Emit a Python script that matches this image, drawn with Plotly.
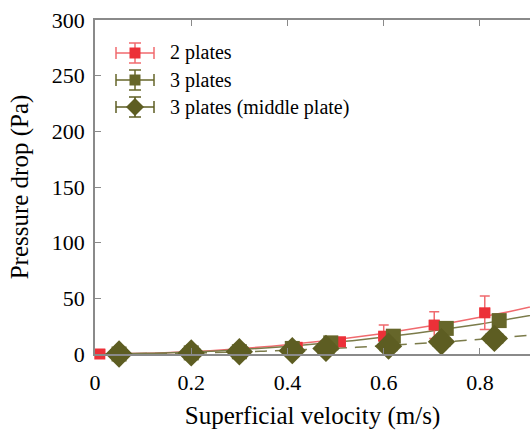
import numpy as np
import plotly.graph_objects as go

# Measured pressure drop vs superficial velocity
two_x = [0.01, 0.20, 0.30, 0.42, 0.51, 0.60, 0.705, 0.81]
two_y = [0.0, 1.0, 2.0, 6.0, 11.0, 16.0, 26.0, 37.0]
two_ey = [1.0, 1.0, 1.5, 2.0, 3.0, 10.0, 12.0, 15.0]
two_ex = [0.01] * 8

three_x = [0.05, 0.20, 0.30, 0.41, 0.49, 0.62, 0.73, 0.84]
three_y = [0.0, 1.0, 2.0, 5.0, 10.0, 16.0, 23.0, 30.0]
three_ey = [2.0, 2.0, 2.0, 2.0, 3.0, 3.0, 4.0, 4.0]
three_ex = [0.012] * 8

mid_x = [0.05, 0.20, 0.30, 0.41, 0.48, 0.61, 0.72, 0.83]
mid_y = [0.0, 1.0, 2.0, 3.0, 5.0, 7.0, 11.0, 14.0]
mid_ey = [7.0] * 8
mid_ex = [0.017] * 8

x_ticks = [0, 0.2, 0.4, 0.6, 0.8]
y_ticks = [0, 50, 100, 150, 200, 250, 300]

legend_names = ["2 plates", "3 plates", "3 plates (middle plate)"]

RED = "#ec3038"
RED_LINE = "#f06a6e"
OLIVE = "#66662a"
OLIVE_LINE = "#7b7b4a"
DARK_OLIVE = "#5d5d22"
AXIS = "#8a8a8a"
TEXT = "black"
FONT = "Liberation Serif"

W, H = 530, 435
ML, MR, MT, MB = 95, 0, 20, 81
PW, PH = W - ML - MR, H - MT - MB

xs = np.linspace(0, 0.95, 120)


def origin_quad_fit(x, y):
    """Least-squares fit of y = a*x^2 evaluated on xs."""
    x = np.asarray(x)
    y = np.asarray(y)
    a = np.sum(x**2 * y) / np.sum(x**4)
    return a * xs**2


fig = go.Figure()

# fitted trend curves
fig.add_trace(go.Scatter(x=xs, y=origin_quad_fit(two_x, two_y), mode="lines",
                         line=dict(color=RED_LINE, width=1.5),
                         showlegend=False, hoverinfo="skip"))
fig.add_trace(go.Scatter(x=xs, y=origin_quad_fit(three_x, three_y), mode="lines",
                         line=dict(color=OLIVE_LINE, width=1.5),
                         showlegend=False, hoverinfo="skip"))
fig.add_trace(go.Scatter(x=xs, y=origin_quad_fit(mid_x, mid_y), mode="lines",
                         line=dict(color=OLIVE_LINE, width=1.5, dash="12px,8px"),
                         showlegend=False, hoverinfo="skip"))

series = [
    (two_x, two_y, two_ex, two_ey, "square", 11, RED, RED_LINE),
    (three_x, three_y, three_ex, three_ey, "square", 15, OLIVE, OLIVE),
    (mid_x, mid_y, mid_ex, mid_ey, "diamond", 21, DARK_OLIVE, DARK_OLIVE),
]
for (x, y, ex, ey, sym, size, col, ecol), name in zip(series, legend_names):
    fig.add_trace(go.Scatter(
        x=x, y=y, mode="markers", name=name, showlegend=False,
        marker=dict(symbol=sym, size=size, color=col),
        error_y=dict(type="data", array=ey, color=ecol, thickness=1.5, width=5),
        error_x=dict(type="data", array=ex, color=ecol, thickness=1.5, width=5),
        cliponaxis=False))


# Key drawn with error-bar glyphs, in paper coordinates
def px2paper(px, py):
    return (px - ML) / PW, (H - MB - py) / PH


key_cx = 135
key_rows = [53, 80, 107]
key_style = [("square", 11, RED, RED_LINE), ("square", 11, OLIVE, OLIVE),
             ("diamond", 18, DARK_OLIVE, DARK_OLIVE)]
for name, cy, (sym, size, col, ecol) in zip(legend_names, key_rows, key_style):
    line = dict(color=ecol, width=1.5)
    x0, y0 = px2paper(key_cx - 19, cy)
    x1, _ = px2paper(key_cx + 19, cy)
    fig.add_shape(type="line", xref="paper", yref="paper", x0=x0, x1=x1, y0=y0, y1=y0, line=line)
    for ex in (key_cx - 19, key_cx + 19):
        a, b = px2paper(ex, cy - 6)
        _, c = px2paper(ex, cy + 6)
        fig.add_shape(type="line", xref="paper", yref="paper", x0=a, x1=a, y0=b, y1=c, line=line)
    a, b = px2paper(key_cx, cy - 10)
    _, c = px2paper(key_cx, cy + 10)
    fig.add_shape(type="line", xref="paper", yref="paper", x0=a, x1=a, y0=b, y1=c, line=line)
    for ey in (cy - 10, cy + 10):
        a, b = px2paper(key_cx - 6, ey)
        c, _ = px2paper(key_cx + 6, ey)
        fig.add_shape(type="line", xref="paper", yref="paper", x0=a, x1=c, y0=b, y1=b, line=line)
    h = size / 2
    if sym == "square":
        a, b = px2paper(key_cx - h, cy + h)
        c, d = px2paper(key_cx + h, cy - h)
        fig.add_shape(type="rect", xref="paper", yref="paper", x0=a, x1=c, y0=b, y1=d,
                      fillcolor=col, line=dict(width=0))
    else:
        pts = [px2paper(key_cx, cy - h), px2paper(key_cx + h, cy),
               px2paper(key_cx, cy + h), px2paper(key_cx - h, cy)]
        path = "M " + " L ".join(f"{p:.5f},{q:.5f}" for p, q in pts) + " Z"
        fig.add_shape(type="path", xref="paper", yref="paper", path=path,
                      fillcolor=col, line=dict(width=0))
    tx, ty = px2paper(168, cy)
    fig.add_annotation(x=tx, y=ty, xref="paper", yref="paper", text=name,
                       showarrow=False, xanchor="left", yanchor="middle",
                       font=dict(family=FONT, size=20, color=TEXT))

axis_common = dict(
    showgrid=False, zeroline=False, showline=True, linecolor=AXIS,
    linewidth=1.5, ticks="inside", ticklen=6, tickcolor=AXIS,
    tickfont=dict(family=FONT, size=22, color=TEXT),
)

fig.update_layout(
    width=W, height=H,
    margin=dict(l=ML, r=MR, t=MT, b=MB),
    paper_bgcolor="white", plot_bgcolor="white",
    font=dict(family=FONT, color=TEXT),
    showlegend=False,
    xaxis=dict(range=[0, 0.904], tickvals=x_ticks,
               ticktext=[f"{v:g}" for v in x_ticks], mirror="ticks",
               ticklabelstandoff=8,
               title=dict(text="Superficial velocity (m/s)",
                          font=dict(family=FONT, size=25, color=TEXT), standoff=12),
               **axis_common),
    yaxis=dict(range=[0, 300], tickvals=y_ticks, mirror=False,
               ticklabelstandoff=4,
               title=dict(text="Pressure drop (Pa)",
                          font=dict(family=FONT, size=25, color=TEXT), standoff=16),
               **axis_common),
)

# make sure every SVG text node uses the serif face
serif_js = """
var gd = document.getElementById('{plot_id}');
function useSerif() {
  gd.querySelectorAll('text').forEach(function (t) {
    t.style.setProperty('font-family', "'Liberation Serif', 'Times New Roman', serif", 'important');
  });
}
useSerif();
gd.on('plotly_afterplot', useSerif);
"""

fig.write_html("out.html", post_script=serif_js)
